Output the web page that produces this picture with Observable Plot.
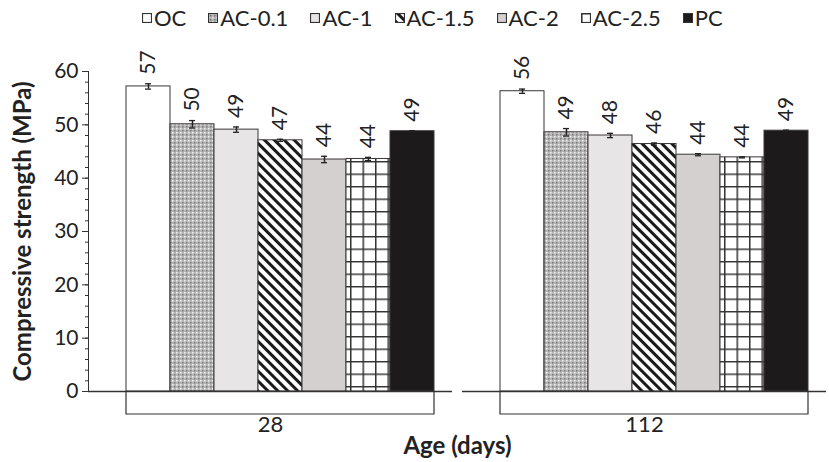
<!DOCTYPE html>
<html><head><meta charset="utf-8">
<script src="https://cdn.jsdelivr.net/npm/d3@7"></script>
<script src="https://cdn.jsdelivr.net/npm/@observablehq/plot@0.6"></script>
<style>
body{margin:0;background:#fff;font-family:Lato, sans-serif;}
#legend{position:relative;height:36px;width:829px;}
#legend .items{position:absolute;left:142px;top:4px;display:flex;gap:22px;font-size:22px;color:#222;line-height:28px;white-space:nowrap}
#legend .item{display:flex;align-items:center;gap:2px}
#legend svg{display:block}
#chart svg{display:block}
</style></head><body>
<div id="legend"><div class="items"></div></div>
<div id="chart"></div>
<script>
// ---- data ----
const ages = ["28", "112"];
const mixes = ["OC", "AC-0.1", "AC-1", "AC-1.5", "AC-2", "AC-2.5", "PC"];
const strength28 = [57.2, 50.1, 49.1, 47.1, 43.5, 43.6, 48.8];
const error28 = [0.5, 0.7, 0.5, 0.2, 0.6, 0.3, 0.1];
const strength112 = [56.3, 48.6, 48.0, 46.4, 44.4, 43.9, 48.9];
const error112 = [0.4, 0.7, 0.4, 0.2, 0.2, 0.1, 0.1];
const yTicks = [0, 10, 20, 30, 40, 50, 60];
const yMinorTicks = d3.range(0, 61, 2);

// ---- styles ----
const fills = ["#ffffff", "url(#pat-ac01)", "#e8e5e6", "url(#pat-ac15)", "#d4d0d0", "url(#pat-ac25)", "#1c1a1a"];

const rows = [];
mixes.forEach((m, i) => rows.push({age: "28", mix: m, value: strength28[i], err: error28[i]}));
mixes.forEach((m, i) => rows.push({age: "112", mix: m, value: strength112[i], err: error112[i]}));

const chart = Plot.plot({
  width: 829, height: 426,
  marginLeft: 88, marginRight: 3, marginTop: 35, marginBottom: 71,
  style: {fontFamily: "Lato, sans-serif", fontSize: "21px", color: "#222", background: "#fff"},
  fx: {domain: ages, paddingInner: 10 / 374, paddingOuter: 0, label: null},
  x: {domain: mixes, paddingInner: 0, paddingOuter: 0.597, align: 0.68, axis: null},
  y: {domain: [0, 60]},
  color: {domain: mixes, range: fills},
  marks: [
    Plot.axisY({ticks: yMinorTicks, tickSize: 3, tickFormat: () => "", facetAnchor: "left", label: null, stroke: "#333"}),
    Plot.axisY({ticks: yTicks, tickSize: 6, tickPadding: 4, facetAnchor: "left",
      label: "Compressive strength (MPa)", labelArrow: false, labelAnchor: "center", labelOffset: 75, stroke: "#333"}),
    Plot.frame({anchor: "left", facetAnchor: "left", stroke: "#333"}),
    Plot.barY(rows, {fx: "age", x: "mix", y: "value", fill: "mix", stroke: "#3a3535", strokeWidth: 1}),
    Plot.ruleY([0], {stroke: "#333", strokeWidth: 1.3}),
    Plot.ruleX(rows, {fx: "age", x: "mix", y1: d => d.value - d.err, y2: d => d.value + d.err, stroke: "#222", strokeWidth: 1.5}),
    Plot.tickY(rows, {fx: "age", x: "mix", y: d => d.value + d.err, insetLeft: 19, insetRight: 19, stroke: "#222", strokeWidth: 1.3}),
    Plot.tickY(rows, {fx: "age", x: "mix", y: d => d.value - d.err, insetLeft: 19, insetRight: 19, stroke: "#222", strokeWidth: 1.3}),
    Plot.text(rows, {fx: "age", x: "mix", y: d => d.value + d.err, text: d => String(Math.round(d.value)),
      rotate: -90, textAnchor: "start", dy: -9, fontSize: 21, fill: "#222"}),
    Plot.axisFx({anchor: "bottom", tickSize: 0, tickPadding: 25, fontSize: 22, label: "Age (days)", labelArrow: false, labelAnchor: "center", labelOffset: 62}),
    Plot.ruleY(ages, {fx: d => d, y: () => 0, render(index, scales) {
      const {x, y} = scales;
      const bw = typeof x.bandwidth === "function" ? x.bandwidth() : x.bandwidth;
      const x0 = x(mixes[0]), x1 = x(mixes[mixes.length - 1]) + bw;
      const y0 = y(0);
      return d3.create("svg:path")
        .attr("d", `M${x0},${y0}V${y0 + 23}H${x1}V${y0}`)
        .attr("fill", "none").attr("stroke", "#333").attr("stroke-width", 1.2)
        .node();
    }})
  ]
});

const defs = document.createElementNS("http://www.w3.org/2000/svg", "defs");
defs.innerHTML = `
<pattern id="pat-ac01" patternUnits="userSpaceOnUse" width="4" height="4">
  <rect width="4" height="4" fill="#b6b6b6"/>
  <rect x="0" y="0" width="1.5" height="1.5" fill="#f0f0f0"/>
  <rect x="2" y="2" width="1.5" height="1.5" fill="#7a7a7a"/>
</pattern>
<pattern id="pat-ac15" patternUnits="userSpaceOnUse" width="7" height="7" patternTransform="rotate(-45)">
  <rect width="7" height="7" fill="#fff"/>
  <rect width="3" height="7" fill="#1a1a1a"/>
</pattern>
<pattern id="pat-ac25" patternUnits="userSpaceOnUse" width="12.5" height="12.5">
  <rect width="12.5" height="12.5" fill="#fff"/>
  <path d="M0,0.75H12.5M0.75,0V12.5" stroke="#333" stroke-width="1.5"/>
</pattern>`;
chart.insertBefore(defs, chart.firstChild);
chart.querySelectorAll('[aria-label$="axis label"]').forEach(g => {
  g.setAttribute("font-weight", "bold");
  g.setAttribute("font-size", "24");
});
document.getElementById("chart").appendChild(chart);

// legend
const items = d3.select("#legend .items");
mixes.forEach((m, i) => {
  const it = items.append("div").attr("class", "item");
  const s = it.append("svg").attr("width", 10).attr("height", 10);
  s.append("rect").attr("x", 0.5).attr("y", 0.5).attr("width", 9).attr("height", 9)
    .attr("fill", fills[i]).attr("stroke", "#333").attr("stroke-width", 1.2);
  it.append("span").text(m);
});
</script>
</body></html>
